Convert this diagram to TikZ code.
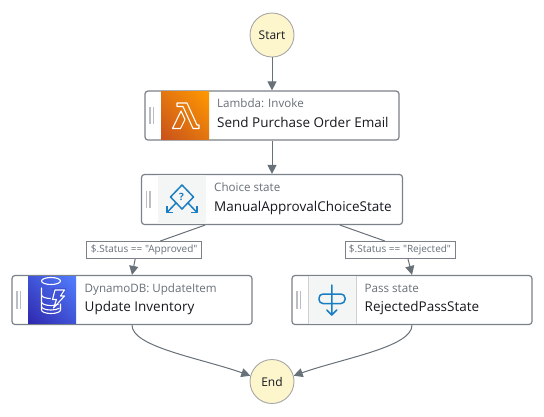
\documentclass[tikz,border=0pt]{standalone}
\usepackage{fontspec}
\setmainfont{Open Sans}
\newfontfamily\guardfont{Open Sans}
\usetikzlibrary{arrows.meta,shadings}
\definecolor{edgegray}{HTML}{687078}
\definecolor{boxgray}{HTML}{7B8188}
\definecolor{gripgray}{HTML}{B8BEC3}
\definecolor{startfill}{HTML}{FDF6CD}
\definecolor{subgray}{HTML}{687078}
\definecolor{textdark}{HTML}{16191F}
\definecolor{iconblue}{HTML}{1A7EC2}
\definecolor{panelgray}{HTML}{F4F5F5}
\definecolor{lambdalow}{HTML}{C8511B}
\definecolor{lambdahigh}{HTML}{FF9900}
\definecolor{lambdamid}{HTML}{E37510}
\definecolor{dynamolow}{HTML}{2E27AD}
\definecolor{dynamohigh}{HTML}{527FFF}
\definecolor{dynamomid}{HTML}{4053D6}
\tikzset{
  terminal/.style={circle, draw=black!35, fill=startfill, line width=0.9pt, minimum size=44pt, inner sep=0pt, font=\fontsize{12}{14}\selectfont, text=textdark},
  statebox/.style={rectangle, rounded corners=3pt, draw=boxgray, fill=white, line width=1.2pt, inner sep=0pt},
  flow/.style={draw=edgegray, line width=1pt, -{Triangle[length=9pt,width=9pt]}},
  plainflow/.style={draw=edgegray, line width=1pt},
  guard/.style={draw=boxgray, fill=white, line width=0.9pt, inner sep=0pt, minimum height=17pt, font=\guardfont\fontsize{10}{12}\selectfont, text=subgray},
  kind/.style={anchor=base west, inner sep=0pt, font=\fontsize{11.6}{14}\selectfont, text=subgray},
  title/.style={anchor=base west, inner sep=0pt, font=\fontsize{13.5}{16}\selectfont, text=textdark},
  grip/.style={draw=gripgray, line width=1.2pt},
  glyph/.style={draw=white, line width=1.1pt, line join=round, line cap=round},
  blueglyph/.style={draw=iconblue, line width=1.5pt, line join=round},
}
\begin{document}
\begin{tikzpicture}[x=1pt,y=-1pt]
\useasboundingbox (0,0) rectangle (544,416);
% states
\node[terminal] (start) at (272,35) {Start};
\node[terminal] (end) at (272,381.5) {End};
\node[statebox, minimum width=254pt, minimum height=49pt] (lambda) at (272,115.5) {};
\node[statebox, minimum width=261pt, minimum height=50pt] (choice) at (272,199.5) {};
\node[statebox, minimum width=240pt, minimum height=49pt] (dynamo) at (132,300) {};
\node[statebox, minimum width=240pt, minimum height=49pt] (pass) at (412,300) {};
% guards
\node[guard, minimum width=115pt] (approved) at (144.2,250) {\$.Status == "Approved"};
\node[guard, minimum width=110pt] (rejected) at (400,250) {\$.Status == "Rejected"};
% icon panels
\shade[lower left=lambdalow, upper right=lambdahigh, lower right=lambdamid, upper left=lambdamid] (161,91.6) rectangle (209,139.4);
\fill[panelgray] (157.5,175) rectangle (206,223.8);
\shade[lower left=dynamolow, upper right=dynamohigh, lower right=dynamomid, upper left=dynamomid] (28,276) rectangle (76,323.8);
\fill[panelgray] (308.5,276) rectangle (356,323.8);
\draw[black!18, line width=0.6pt] (308.5,276) -- (308.5,323.8) (356,276) -- (356,323.8);
% grips
\draw[grip] (150,107) -- (150,124) (153.5,107) -- (153.5,124);
\draw[grip] (146.5,190.5) -- (146.5,208) (150,190.5) -- (150,208);
\draw[grip] (17,291) -- (17,309) (20.5,291) -- (20.5,309);
\draw[grip] (297,291) -- (297,309) (300.5,291) -- (300.5,309);
% lambda icon
\draw[glyph] (177,103) -- (187,103) -- (197,125) -- (199,125) -- (199,128.5) -- (193,128.5) -- (183,106.5) -- (177,106.5) -- cycle;
\draw[glyph] (172.5,128.5) -- (181,111) -- (185,119.5) -- (180.5,128.5) -- cycle;
% choice icon
\draw[blueglyph] (182,185) -- (193.5,197) -- (182,209) -- (170.5,197) -- cycle;
\node[inner sep=0pt, text=iconblue, font=\bfseries\fontsize{10}{10}\selectfont] (mark) at (181.5,197) {?};
\draw[blueglyph] (176,203) -- (167,212.5) (188,203) -- (197,212.5);
\draw[blueglyph] (167,206) -- (167,212.5) -- (173,212.5) (197,206) -- (197,212.5) -- (191,212.5);
% dynamodb icon
\draw[glyph] (41.5,288) -- (41.5,310) arc[start angle=180, end angle=360, x radius=9.5, y radius=-3.5] -- (60.5,304);
\draw[glyph] (51,284.5) arc[start angle=90, end angle=450, x radius=9.5, y radius=3.5];
\draw[glyph] (41.5,295) arc[start angle=180, end angle=320, x radius=9.5, y radius=-3.5];
\draw[glyph] (41.5,302) arc[start angle=180, end angle=320, x radius=9.5, y radius=-3.5];
\draw[glyph] (41.5,306.5) arc[start angle=180, end angle=330, x radius=9.5, y radius=-3.5];
\fill[dynamomid] (52,288) -- (66,288) -- (61,303) -- (50,305) -- cycle;
\draw[glyph] (55,290) -- (64.5,290) -- (60.5,296) -- (64.5,296) -- (53.5,308) -- (56.5,299.5) -- (52.5,299.5) -- cycle;
% pass icon
\draw[blueglyph, rounded corners=4pt] (319,294) rectangle (345,303.5);
\draw[blueglyph, line cap=round] (331.8,285) -- (331.8,315) (326.8,310) -- (331.8,315) -- (336.8,310);
% labels
\node[kind] (lambdakind) at (217,107.5) {Lambda: Invoke};
\node[title] (lambdatitle) at (217,127.5) {Send Purchase Order Email};
\node[kind] (choicekind) at (214,191.5) {Choice state};
\node[title] (choicetitle) at (214,211.5) {ManualApprovalChoiceState};
\node[kind] (dynamokind) at (84.5,292.5) {DynamoDB: UpdateItem};
\node[title] (dynamotitle) at (84.5,311.5) {Update Inventory};
\node[kind] (passkind) at (364.5,292.5) {Pass state};
\node[title] (passtitle) at (364.5,311.5) {RejectedPassState};
% connectors
\draw[flow] (start) -- (lambda);
\draw[flow] (lambda) -- (choice);
\draw[plainflow] ([xshift=-67pt]choice.south) -- ([xshift=16pt]approved.north);
\draw[plainflow] ([xshift=68pt]choice.south) -- ([xshift=-15pt]rejected.north);
\draw[flow] ([xshift=-9pt]approved.south) -- (dynamo.north);
\draw[flow] ([xshift=8pt]rejected.south) -- (pass.north);
\draw[flow] (dynamo.south) .. controls (132,347) and (200,358) .. (end.165);
\draw[flow] (pass.south) .. controls (412,347) and (344,358) .. (end.15);
\end{tikzpicture}
\end{document}
